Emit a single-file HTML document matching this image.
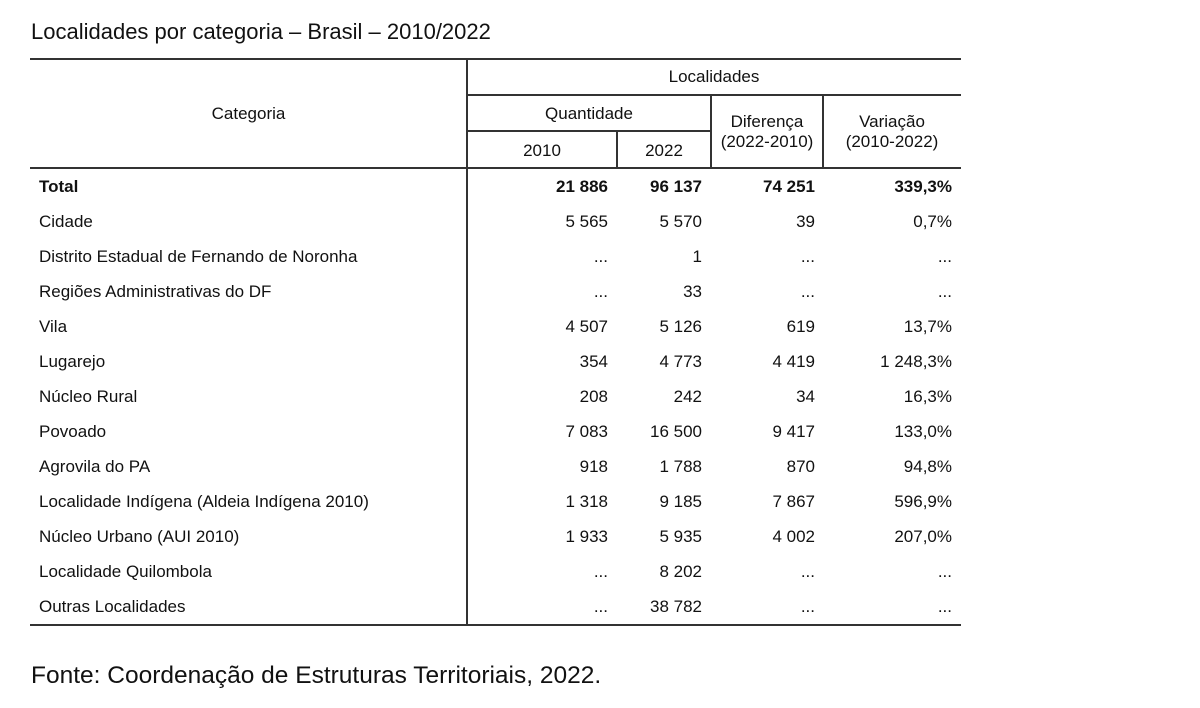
<!DOCTYPE html>
<html><head><meta charset="utf-8"><style>
body{margin:0;width:1200px;height:708px;background:#fff;position:relative;font-family:"Liberation Sans",Arial,sans-serif;color:#111;overflow:hidden}
.t{position:absolute;white-space:nowrap;font-size:17px;line-height:20px}
.h{position:absolute;background:#333;height:1.5px}
.v{position:absolute;background:#333;width:1.5px}
.r{text-align:right}
.c{text-align:center}
.b{font-weight:bold}
</style></head><body>
<div class="t" style="left:31px;top:19px;font-size:22px;line-height:26px">Localidades por categoria – Brasil – 2010/2022</div>
<div class="h" style="left:30px;width:931px;top:58px"></div>
<div class="h" style="left:467px;width:494px;top:94px"></div>
<div class="h" style="left:467px;width:244px;top:130px"></div>
<div class="h" style="left:30px;width:931px;top:167px"></div>
<div class="h" style="left:30px;width:931px;top:624px"></div>
<div class="v" style="left:466px;top:58px;height:567px"></div>
<div class="v" style="left:616px;top:130px;height:38px"></div>
<div class="v" style="left:710px;top:94px;height:74px"></div>
<div class="v" style="left:822px;top:94px;height:74px"></div>
<div class="t c" style="left:30px;width:437px;top:104px">Categoria</div>
<div class="t c" style="left:467px;width:494px;top:67px">Localidades</div>
<div class="t c" style="left:467px;width:244px;top:104px">Quantidade</div>
<div class="t c" style="left:467px;width:150px;top:141px">2010</div>
<div class="t c" style="left:617px;width:94px;top:141px">2022</div>
<div class="t c" style="left:711px;width:112px;top:112px">Diferença<br>(2022-2010)</div>
<div class="t c" style="left:823px;width:138px;top:112px">Variação<br>(2010-2022)</div>
<div id="rows"></div>
<div class="t" style="left:31px;top:662px;font-size:24.5px;line-height:28px">Fonte: Coordenação de Estruturas Territoriais, 2022.</div>
<script>
var d=[["Total","21 886","96 137","74 251","339,3%"],["Cidade","5 565","5 570","39","0,7%"],["Distrito Estadual de Fernando de Noronha","...","1","...","..."],["Regiões Administrativas do DF","...","33","...","..."],["Vila","4 507","5 126","619","13,7%"],["Lugarejo","354","4 773","4 419","1 248,3%"],["Núcleo Rural","208","242","34","16,3%"],["Povoado","7 083","16 500","9 417","133,0%"],["Agrovila do PA","918","1 788","870","94,8%"],["Localidade Indígena (Aldeia Indígena 2010)","1 318","9 185","7 867","596,9%"],["Núcleo Urbano (AUI 2010)","1 933","5 935","4 002","207,0%"],["Localidade Quilombola","...","8 202","...","..."],["Outras Localidades","...","38 782","...","..."]];
var rights=[608,702,815,952],h="";
d.forEach(function(r,i){var y=177+i*35,b=i==0?" b":"";
h+='<div class="t'+b+'" style="left:39px;top:'+y+'px">'+r[0]+'</div>';
for(var j=0;j<4;j++)h+='<div class="t r'+b+'" style="left:'+(rights[j]-150)+'px;width:150px;top:'+y+'px">'+r[j+1]+'</div>';});
document.getElementById("rows").innerHTML=h;
</script>
</body></html>
